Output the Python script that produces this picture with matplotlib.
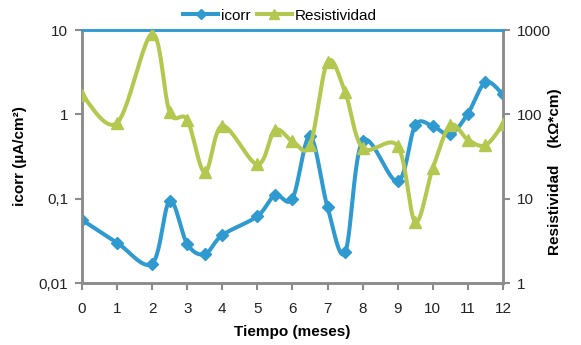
import numpy as np
import matplotlib
matplotlib.use("Agg")
import matplotlib.pyplot as plt
from matplotlib.lines import Line2D

plt.rcParams['font.family'] = ['Liberation Sans', 'DejaVu Sans']

# Time (months)
months = [0, 1, 2, 2.5, 3, 3.5, 4, 5, 5.5, 6, 6.5, 7, 7.5, 8, 9, 9.5, 10, 10.5, 11, 11.5, 12]
# Corrosion current density (uA/cm2)
icorr = [0.056, 0.030, 0.017, 0.094, 0.029, 0.022, 0.037, 0.062, 0.11, 0.10, 0.55,
         0.079, 0.023, 0.48, 0.16, 0.74, 0.72, 0.58, 1.02, 2.4, 1.72]
# Resistivity (kOhm*cm)
resist = [170, 79, 900, 106, 86, 20.5, 73, 25.5, 65, 48, 43,
          420, 184, 40, 42, 5.3, 23, 74, 50, 43, 76]

x_ticks = list(range(0, 13))
left_ticks = [0.01, 0.1, 1, 10]
left_labels = ["0,01", "0,1", "1", "10"]
right_ticks = [1, 10, 100, 1000]
right_labels = ["1", "10", "100", "1000"]

BLUE = "#2f9ad0"
GREEN = "#b4c74e"
GREY = "#8c8c8c"


def smooth(xs, ys, n=24):
    """Catmull-Rom spline through the points, built in log10(y) space."""
    xs = np.asarray(xs, float)
    ly = np.log10(np.asarray(ys, float))
    px = np.concatenate([[xs[0]], xs, [xs[-1]]])
    py = np.concatenate([[ly[0]], ly, [ly[-1]]])
    out_x, out_y = [], []
    for i in range(1, len(px) - 2):
        p0 = np.array([px[i - 1], py[i - 1]])
        p1 = np.array([px[i], py[i]])
        p2 = np.array([px[i + 1], py[i + 1]])
        p3 = np.array([px[i + 2], py[i + 2]])
        c1 = p1 + (p2 - p0) / 6.0
        c2 = p2 - (p3 - p1) / 6.0
        t = np.linspace(0, 1, n, endpoint=(i == len(px) - 3))[:, None]
        pts = ((1 - t) ** 3) * p1 + 3 * ((1 - t) ** 2) * t * c1 + 3 * (1 - t) * t ** 2 * c2 + t ** 3 * p2
        out_x.extend(pts[:, 0])
        out_y.extend(pts[:, 1])
    return np.array(out_x), 10 ** np.array(out_y)


fig = plt.figure(figsize=(5.81, 3.45), dpi=100)
ax = fig.add_axes([0.1411, 0.1797, 0.8657 - 0.1411, 0.913 - 0.1797])
ax2 = ax.twinx()

sx, sy = smooth(months, icorr)
ax.plot(sx, sy, color=BLUE, lw=2.9, solid_capstyle='round', zorder=2)
ax.plot(months, icorr, ls='none', marker='D', ms=6.5, color=BLUE, zorder=3)

rx, ry = smooth(months, resist)
ax2.plot(rx, ry, color=GREEN, lw=2.9, solid_capstyle='round', zorder=2)
ax2.plot(months, resist, ls='none', marker='^', ms=8.5, color=GREEN, zorder=3)

ax.set_yscale('log')
ax2.set_yscale('log')
ax.set_xlim(0, 12)
ax.set_ylim(0.01, 10)
ax2.set_ylim(1, 1000)

ax.set_xticks(x_ticks)
ax.set_xticklabels([str(v) for v in x_ticks])
ax.set_yticks(left_ticks)
ax.set_yticklabels(left_labels)
ax.yaxis.set_minor_locator(matplotlib.ticker.NullLocator())
ax2.set_yticks(right_ticks)
ax2.set_yticklabels(right_labels)
ax2.yaxis.set_minor_locator(matplotlib.ticker.NullLocator())

for a in (ax, ax2):
    for side in ('left', 'right', 'bottom'):
        a.spines[side].set_color(GREY)
        a.spines[side].set_linewidth(1.8)
    a.spines['top'].set_color(BLUE)
    a.spines['top'].set_linewidth(1.8)
    a.tick_params(axis='both', which='major', direction='out', length=5, width=1.5,
                  color=GREY, labelsize=11, labelcolor='#222222', pad=5)

ax.tick_params(axis='x', pad=9)
ax.set_xlabel("Tiempo (meses)", fontsize=11, fontweight='bold', labelpad=6)
ax.set_ylabel("icorr (µA/cm²)", fontsize=11, fontweight='bold')
ax.yaxis.set_label_coords(-0.13, 0.5)
ax2.set_ylabel("Resistividad    (kΩ*cm)", fontsize=11, fontweight='bold')
ax2.yaxis.set_label_coords(1.107, 0.44)

handles = [
    Line2D([], [], color=BLUE, lw=2.9, marker='D', ms=5),
    Line2D([], [], color=GREEN, lw=2.9, marker='^', ms=6.5),
]
fig.legend(handles, ["icorr", "Resistividad"], loc='center', bbox_to_anchor=(0.482, 0.955),
           ncol=2, frameon=False, fontsize=11, handlelength=2.3, handletextpad=0.2,
           columnspacing=0.4, borderaxespad=0)

fig.savefig("out.png", dpi=100)
